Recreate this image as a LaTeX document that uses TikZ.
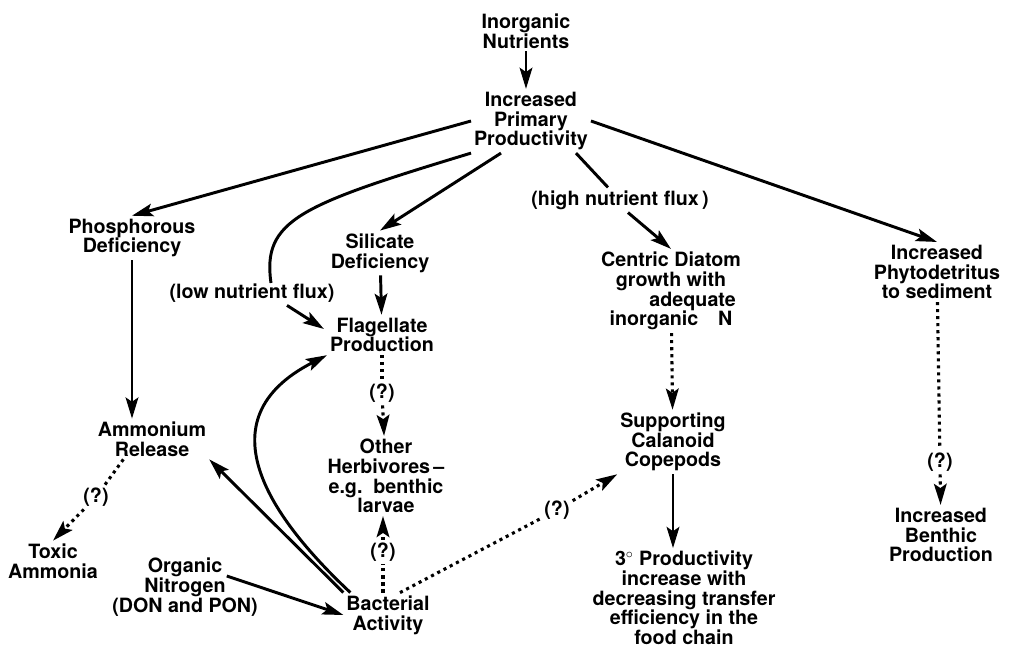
\documentclass[tikz,border=0pt]{standalone}
\usepackage{fontspec}
\setmainfont{TeX Gyre Heros}
\usetikzlibrary{arrows.meta,calc}

\begin{document}
\begin{tikzpicture}[x=0.025cm,y=-0.025cm,
  every node/.style={font=\fontsize{14}{14}\selectfont\bfseries,align=center,inner sep=2pt},
  arr/.style={line width=2.1pt,-{Stealth[length=15pt,width=9pt,inset=3pt]}},
  plain/.style={line width=2.1pt},
  dotline/.style={line width=2.2pt,dash pattern=on 2.2pt off 2.8pt},
  dotarr/.style={dotline,-{Stealth[length=15pt,width=9pt,inset=3pt]}}]
\useasboundingbox (0,0) rectangle (1009,651);

\node (nutr) at (526,31) {Inorganic\\Nutrients};
\node (ipp) at (531,121) {Increased\\Primary\\Productivity};
\node (phos) at (132,238) {Phosphorous\\Deficiency};
\node (sil) at (380,253) {Silicate\\Deficiency};
\node (lowflux) at (252,293) {(low nutrient flux)};
\node (flag) at (382,335) {Flagellate\\Production};
\node (highflux) at (620,200) {(high nutrient flux\,)};
\node (diatom) at (671,291) {Centric Diatom\\growth with\\\hspace*{2.2em}adequate\\inorganic\quad N};
\node (phyto) at (937,272) {Increased\\Phytodetritus\\to sediment};
\node (q2) at (382,393) {(?)};
\node (herb) at (386,476) {Other\\Herbivores\,--\\e.g.\ \ benthic\\larvae};
\node (amm) at (152,439) {Ammonium\\Release};
\node (q1) at (96,497) {(?)};
\node (toxic) at (53,561) {Toxic\\Ammonia};
\node (orgn) at (185,587) {Organic\\Nitrogen\\(DON and PON)};
\node (bact) at (388,615) {Bacterial\\Activity};
\node (q3) at (383,552) {(?)};
\node (q4) at (557,510) {(?)};
\node (cope) at (673,442) {Supporting\\Calanoid\\Copepods};
\node (tert) at (684,598) {3$^{\circ}$ Productivity\\increase with\\decreasing transfer\\efficiency in the\\food chain};
\node (q5) at (940,462) {(?)};
\node (benth) at (941,535) {Increased\\Benthic\\Production};
\coordinate (lowend) at (271,283);

\draw[arr] (nutr.south) -- (nutr.south |- ipp.north);
\draw[arr] (ipp.west) -- (phos.north);
\draw[arr] ($(ipp.south)!0.5!(ipp.south west)$) -- (sil.north);
\draw[plain] (ipp.south west) .. controls (300,205) and (262,220) .. (lowend);
\draw[arr] ($(lowflux.south)+(35,0)$) -- ($(flag.west)+(-3,-6)$);
\draw[plain] ($(ipp.south)!0.75!(ipp.south east)$) -- ($(highflux.north)+(-12,0)$);
\draw[arr] ($(highflux.south)+(8,0)$) -- (diatom.north);
\draw[arr] (ipp.east) -- (phyto.north);
\draw[arr] (sil) -- (flag);
\draw[arr] (phos.south) -- (phos.south |- amm.north);
\draw[dotline] (flag) -- (q2);
\draw[dotarr] (q2) -- (herb);
\draw[dotarr] (diatom) -- (cope);
\draw[arr] (cope.south) -- (cope.south |- tert.north);
\draw[dotline] (phyto) -- (q5);
\draw[dotarr] (q5) -- (benth);
\draw[dotline] ($(amm.south)!0.5!(amm.south west)$) -- (q1);
\draw[dotarr] (q1) -- (toxic.north);
\draw[arr] ($(orgn.east)+(-34,-11)$) -- (bact.west);
\draw[arr] (bact.north west) -- (amm.south east);
\draw[arr] ($(bact.north west)+(7,0)$) .. controls (273,520) and (200,420) .. (flag.south west);
\draw[dotline] (bact.north -| q3) -- (q3);
\draw[dotarr] (q3) -- (q3 |- herb.south);
\draw[dotline] ($(bact.north)+(12,0)$) -- (q4);
\draw[dotarr] (q4) -- (cope.south west);
\end{tikzpicture}
\end{document}
